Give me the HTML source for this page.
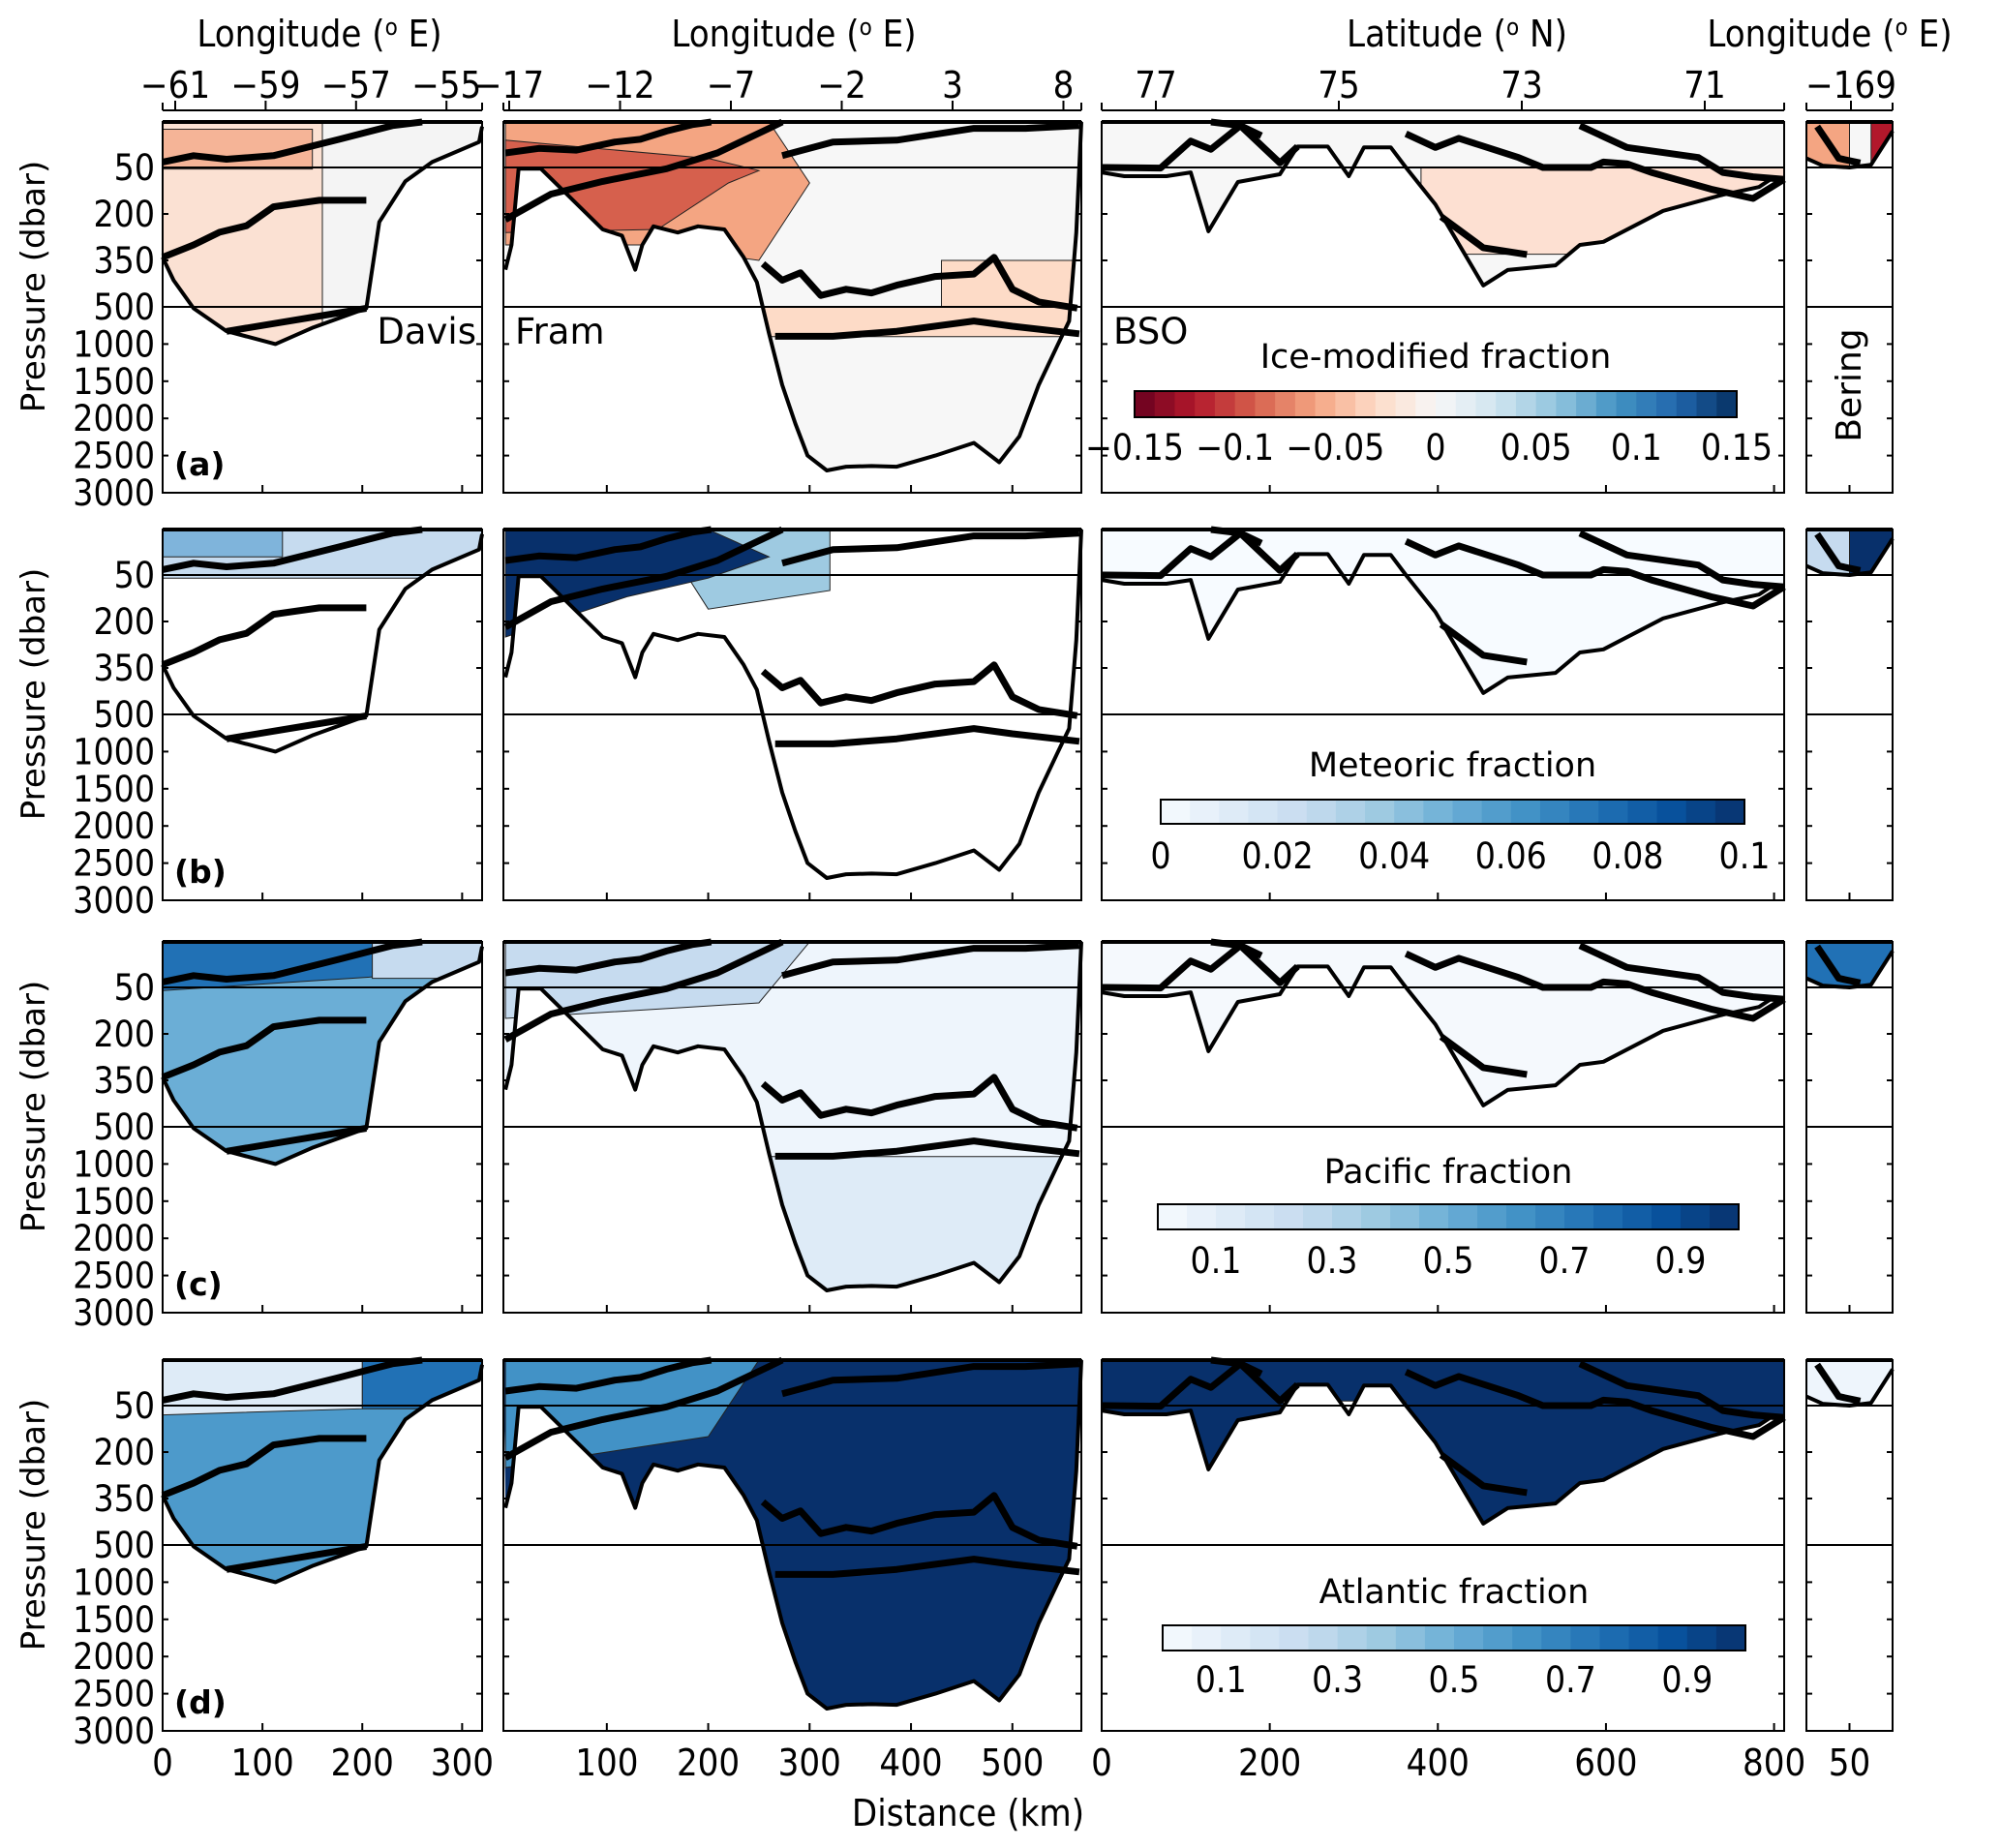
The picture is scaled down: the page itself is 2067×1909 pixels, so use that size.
<!DOCTYPE html>
<html><head><meta charset="utf-8"><style>
html,body{margin:0;padding:0;background:#fff;}
svg{display:block;font-family:"Liberation Sans Narrow","DejaVu Sans Condensed","Liberation Sans",sans-serif;}
.lbl{font-family:"DejaVu Sans","Liberation Sans",sans-serif;}
</style></head><body>
<svg id="fig" xmlns="http://www.w3.org/2000/svg" width="2067" height="1909" viewBox="0 0 2067 1909"></svg>
<script>
// ---------- data ----------
const rowTops = [126, 547, 973, 1405];
const rowLetters = ["(a)","(b)","(c)","(d)"];
const pTicks = [50,200,350,500,1000,1500,2000,2500,3000];

const davisBathyKm = [0,11,31,64,113,151,204,217,243,270,317,320];
const davisBathyP  = [340,414,520,827,1000,776,520,226,95,44,22,5];
const framBathyKm = [0,6,13,35,96,115,128,135,146,170,190,216,235,248,260,273,286,298,317,336,361,386,424,462,487,507,526,544,556,563,568];
const framBathyP  = [380,300,54,54,250,270,380,300,240,260,240,250,340,420,860,1550,2070,2500,2700,2650,2640,2650,2500,2330,2590,2240,1550,1030,690,260,0];
const bsoBathyKm = [0,27,77,106,127,162,212,233,269,294,312,344,362,397,454,483,540,569,597,668,739,782,796,812];
const bsoBathyP  = [66,78,78,66,256,97,72,27,27,78,28,28,50,169,431,381,366,300,290,190,138,113,88,88];
const berBathyKm = [42,45,50,54,58];
const berBathyP  = [40,48,50,47,10];

const davisLine1Km=[0,31,64,111,177,230,260], davisLine1P=[44,37,41,37,19,4,0];
const davisLine2Km=[0,31,57,84,111,157,204], davisLine2P=[340,300,259,238,177,156,156];
const davisLine3Km=[64,204], davisLine3P=[830,520];
const framLineAKm=[0,33,70,108,133,159,184,203], framLineAP=[34,29,31,22,19,10,3,0];
const framLineBKm=[0,45,96,159,209,260,273], framLineBP=[218,136,95,54,34,7,0];
const framLineCKm=[254,273,291,311,336,361,386,424,462,482,500,526,564], framLineCP=[361,414,390,463,443,455,430,402,394,340,443,484,517];
const framLineDKm=[266,323,386,462,500,566], framLineDP=[896,896,828,690,760,862];
const framLineEKm=[273,323,386,462,513,566], framLineEP=[37,22,20,7,7,4];
const bsoLineAKm=[0,70,106,130,165,190], bsoLineAP=[50,52,21,30,4,15];
const bsoLineBKm=[130,165,212,233], bsoLineBP=[0,4,45,27];
const bsoLineCKm=[362,397,425,496,525,582,597,625,654,725,775,812], bsoLineCP=[13,28,18,39,50,50,44,46,66,120,150,88];
const bsoLineDKm=[569,625,710,739,775,812], bsoLineDP=[4,28,39,66,80,88];
const bsoLineEKm=[404,454,506], bsoLineEP=[209,309,331];
const berLineKm=[44,48,52], berLineP=[5,40,45];

const davisLonTicks=[-61,-59,-57,-55];
const framLonTicks=[-17,-12,-7,-2,3,8];
const bsoLatTicks=[77,75,73,71];
const berLonTicks=[-169];
const davisDistTicks=[0,100,200,300];
const framDistTicks=[100,200,300,400,500];
const bsoDistTicks=[0,200,400,600,800];
const berDistTicks=[50];

const iceTickVals=[-0.15,-0.1,-0.05,0,0.05,0.1,0.15];
const iceTickLabels=["\u22120.15","\u22120.1","\u22120.05","0","0.05","0.1","0.15"];
const metTickVals=[0,0.02,0.04,0.06,0.08,0.1];
const metTickLabels=["0","0.02","0.04","0.06","0.08","0.1"];
const fracTickVals=[0.1,0.3,0.5,0.7,0.9];
const fracTickLabels=["0.1","0.3","0.5","0.7","0.9"];

// ---------- helpers ----------
const NS="http://www.w3.org/2000/svg";
const svg=document.getElementById('fig');
function mk(tag,attrs,parent){const e=document.createElementNS(NS,tag);for(const k in attrs)e.setAttribute(k,attrs[k]);(parent||svg).appendChild(e);return e;}
function txt(s,attrs,parent){const e=mk('text',attrs,parent);e.textContent=s;return e;}
const H=383;
function pY(p){ if(p<=50) return p/50*47; if(p<=500) return 47+(p-50)/450*144; return 191+(p-500)/2500*192; }
const sections=[
 {id:'davis',x0:168,x1:498,d0:0,d1:320,bk:davisBathyKm,bp:davisBathyP,
  lines:[[davisLine1Km,davisLine1P],[davisLine2Km,davisLine2P],[davisLine3Km,davisLine3P]]},
 {id:'fram',x0:520,x1:1117,d0:-2,d1:568,bk:framBathyKm,bp:framBathyP,
  lines:[[framLineAKm,framLineAP],[framLineBKm,framLineBP],[framLineCKm,framLineCP],[framLineDKm,framLineDP],[framLineEKm,framLineEP]]},
 {id:'bso',x0:1138,x1:1843,d0:0,d1:812,bk:bsoBathyKm,bp:bsoBathyP,
  lines:[[bsoLineAKm,bsoLineAP],[bsoLineBKm,bsoLineBP],[bsoLineCKm,bsoLineCP],[bsoLineDKm,bsoLineDP],[bsoLineEKm,bsoLineEP]]},
 {id:'bering',x0:1866,x1:1955,d0:42,d1:58,bk:berBathyKm,bp:berBathyP,lines:[[berLineKm,berLineP]]}
];
function xS(s,d){return s.x0+(d-s.d0)/(s.d1-s.d0)*(s.x1-s.x0);}

const base=[
 ['#fbe1d3','#f7f7f7','#f7f7f7','#f7f7f7'],
 ['#ffffff','#ffffff','#f7fbff','#c6dbef'],
 ['#6baed6','#eef5fc','#f5f9fd','#2171b5'],
 ['#4d9acb','#08306b','#08306b','#eef5fc']
];
const patches=[
 [0,0,'#f4f4f4',[160,330,330,160],[0,0,3000,3000]],
 [0,0,'#f5b497',[0,150,150,0],[8,8,55,55]],
 [1,0,'#f4a582',[0,260,300,250,140,0],[0,0,100,350,300,300]],
 [1,0,'#d6604d',[0,100,200,250,220,150,0],[20,30,40,60,100,250,260]],
 [1,0,'#fddbc7',[250,568,568,250],[500,500,900,900]],
 [1,0,'#fddbc7',[430,568,568,430],[350,350,500,500]],
 [2,0,'#fde0d2',[380,812,812,600,380],[50,50,120,330,330]],
 [3,0,'#f4a582',[42,50,50,42],[0,0,50,50]],
 [3,0,'#b2182b',[54,58,58,54],[0,0,50,50]],
 [0,1,'#c6dbef',[0,330,330,0],[0,0,60,60]],
 [0,1,'#7fb4db',[0,120,120,0],[0,0,30,30]],
 [1,1,'#9ecae1',[150,320,320,200],[0,0,100,160]],
 [1,1,'#08306b',[0,200,260,200,120,0],[0,0,30,60,120,250]],
 [3,1,'#08306b',[50,58,58,50],[0,0,50,50]],
 [0,2,'#2171b5',[0,330,330,0],[0,0,30,60]],
 [0,2,'#c6dbef',[210,330,330,210],[0,0,40,40]],
 [1,2,'#c6dbef',[0,300,250,0],[0,0,100,150]],
 [1,2,'#deebf7',[250,568,568,250],[900,900,3000,3000]],
 [0,3,'#deebf7',[0,200,200,0],[0,0,60,80]],
 [0,3,'#2171b5',[200,330,330,200],[0,0,60,60]],
 [1,3,'#4292c6',[0,250,200,0],[0,0,150,250]],
 [2,3,'#ffffff',[216,362,362,216],[45,45,200,200]]
];

// ---------- draw panels ----------
rowTops.forEach((top,r)=>{
  const rowG=mk('g',{});
  
  
  sections.forEach((s,si)=>{
    const g=mk('g',{},rowG);
    
    
    const Y=p=>top+pY(p);
    let pts=[[xS(s,s.d0),Y(0)],[xS(s,s.d1),Y(0)]];
    for(let i=s.bk.length-1;i>=0;i--) pts.push([xS(s,s.bk[i]),Y(s.bp[i])]);
    const poly=pts.map(q=>q[0].toFixed(1)+','+q[1].toFixed(1)).join(' ');
    const cid='clip-'+s.id+'-'+r;
    const cp=mk('clipPath',{id:cid},g); mk('polygon',{points:poly},cp);
    const wg=mk('g',{'clip-path':'url(#'+cid+')'},g);
    const w=mk('polygon',{points:poly,fill:base[r][si]},wg);
    
    
    patches.filter(p=>p[0]===si&&p[1]===r).forEach(p=>{
      const pp=p[3].map((k,i)=>xS(s,k).toFixed(1)+','+Y(p[4][i]).toFixed(1)).join(' ');
      const e=mk('polygon',{points:pp,fill:p[2],stroke:'#222','stroke-width':1},wg);
      
      
    });
    const bpath=s.bk.map((k,i)=>(i?'L':'M')+xS(s,k).toFixed(1)+','+Y(s.bp[i]).toFixed(1)).join(' ');
    const b=mk('path',{d:bpath,fill:'none',stroke:'#000','stroke-width':4,'stroke-linejoin':'round'},g);
    
    
    s.lines.forEach(L=>{
      const d=L[0].map((k,i)=>(i?'L':'M')+xS(s,k).toFixed(1)+','+Y(L[1][i]).toFixed(1)).join(' ');
      const e=mk('path',{d:d,fill:'none',stroke:'#000','stroke-width':7,'stroke-linejoin':'round'},g);
      
      
    });
    [50,500].forEach(p=>{mk('line',{x1:s.x0,x2:s.x1,y1:Y(p),y2:Y(p),stroke:'#000','stroke-width':2},g);});
    const f=mk('rect',{x:s.x0,y:top,width:s.x1-s.x0,height:H,fill:'none',stroke:'#000','stroke-width':2},g);
    
    
    mk('line',{x1:s.x0,x2:s.x1,y1:top,y2:top,stroke:'#000','stroke-width':4},g);
    pTicks.forEach(p=>{mk('line',{x1:s.x0,x2:s.x0+6,y1:Y(p),y2:Y(p),stroke:'#000','stroke-width':2},g);
                       mk('line',{x1:s.x1,x2:s.x1-6,y1:Y(p),y2:Y(p),stroke:'#000','stroke-width':2},g);});
    const dt=[davisDistTicks,framDistTicks,bsoDistTicks,berDistTicks][si];
    dt.forEach(d=>{mk('line',{x1:xS(s,d),x2:xS(s,d),y1:top+H,y2:top+H-8,stroke:'#000','stroke-width':2},g);});
  });
  pTicks.forEach(p=>{
    const t=txt(String(p),{x:160,y:top+pY(p)+13,'font-size':37,'text-anchor':'end'},rowG);
    
    
  });
  const yt=txt('Pressure (dbar)',{x:0,y:0,'font-size':34,'text-anchor':'middle',class:'lbl',transform:'translate(46,'+(top+170)+') rotate(-90)'},rowG);
  
  
  const lt=txt(rowLetters[r],{x:180,y:top+H-18,'font-size':33,'font-weight':'bold',class:'lbl'},rowG);
  
  
});

[['Davis',492,355,'end'],['Fram',532,355,'start'],['BSO',1150,355,'start']].forEach(a=>{
  const t=txt(a[0],{x:a[1],y:a[2],'font-size':37,'text-anchor':a[3],class:'lbl'});
  
  
});
const bt=txt('Bering',{x:0,y:0,'font-size':36,'text-anchor':'middle',class:'lbl',transform:'translate(1922,398) rotate(-90)'});



const topAxes=[
 [davisLonTicks,v=>181+(v+61)*46.7,'Longitude (',' E)',330,168,498],
 [framLonTicks,v=>526+(v+17)*22.9,'Longitude (',' E)',820,520,1117],
 [bsoLatTicks,v=>1194+(77-v)*94.5,'Latitude (',' N)',1505,1138,1843],
 [berLonTicks,v=>1912,'Longitude (',' E)',1890,1866,1955]
];
topAxes.forEach(a=>{
  mk('line',{x1:a[5],x2:a[6],y1:114,y2:114,stroke:'#000','stroke-width':2});
  mk('line',{x1:a[5],x2:a[5],y1:114,y2:106,stroke:'#000','stroke-width':2});
  mk('line',{x1:a[6],x2:a[6],y1:114,y2:106,stroke:'#000','stroke-width':2});
  a[0].forEach(v=>{
    const x=a[1](v);
    mk('line',{x1:x,x2:x,y1:114,y2:104,stroke:'#000','stroke-width':2});
    const t=txt(String(v).replace('-','\u2212'),{x:x,y:101,'font-size':38,'text-anchor':'middle'});
    
    
  });
  const t=mk('text',{x:a[4],y:48,'font-size':38,'text-anchor':'middle'});
  
  
  const s1=mk('tspan',{},t); s1.textContent=a[2];
  const s2=mk('tspan',{dy:-12,'font-size':24},t); s2.textContent='o';
  const s3=mk('tspan',{dy:12},t); s3.textContent=a[3];
});

const lastTop=rowTops[3];
[davisDistTicks,framDistTicks,bsoDistTicks,berDistTicks].forEach((arr,si)=>{
  arr.forEach(d=>{
    const t=txt(String(d),{x:xS(sections[si],d),y:lastTop+H+46,'font-size':38,'text-anchor':'middle'});
    
    
  });
});
const xt=txt('Distance (km)',{x:1000,y:1886,'font-size':38,'text-anchor':'middle'});



function lerp(c1,c2,t){return '#'+[0,1,2].map(i=>{const a=parseInt(c1.substr(1+2*i,2),16),b=parseInt(c2.substr(1+2*i,2),16);return Math.round(a+(b-a)*t).toString(16).padStart(2,'0');}).join('');}
function ramp(stops,t){const n=stops.length-1;const i=Math.min(n-1,Math.floor(t*n));return lerp(stops[i],stops[i+1],t*n-i);}
const rdbu=['#67001f','#b2182b','#d6604d','#f4a582','#fddbc7','#f7f7f7','#d1e5f0','#92c5de','#4393c3','#2166ac','#053061'];
const blues=['#f7fbff','#deebf7','#c6dbef','#9ecae1','#6baed6','#4292c6','#2171b5','#08519c','#08306b'];
const bars=[
 {name:'ice-modified-colorbar',title:'Ice-modified fraction',x:1172,w:622,y:404,h:27,n:30,st:rdbu,v0:-0.15,v1:0.15,tv:iceTickVals,tl:iceTickLabels,ty:380,ly:475},
 {name:'meteoric-colorbar',title:'Meteoric fraction',x:1199,w:603,y:826,h:25,n:20,st:blues,v0:0,v1:0.1,tv:metTickVals,tl:metTickLabels,ty:802,ly:897},
 {name:'pacific-colorbar',title:'Pacific fraction',x:1196,w:600,y:1244,h:26,n:20,st:blues,v0:0,v1:1,tv:fracTickVals,tl:fracTickLabels,ty:1222,ly:1315},
 {name:'atlantic-colorbar',title:'Atlantic fraction',x:1201,w:602,y:1679,h:26,n:20,st:blues,v0:0,v1:1,tv:fracTickVals,tl:fracTickLabels,ty:1656,ly:1748}
];
bars.forEach(b=>{
  const g=mk('g',{});
  
  
  for(let i=0;i<b.n;i++){
    mk('rect',{x:b.x+i*b.w/b.n,y:b.y,width:b.w/b.n+0.6,height:b.h,fill:ramp(b.st,(i+0.5)/b.n)},g);
  }
  mk('rect',{x:b.x,y:b.y,width:b.w,height:b.h,fill:'none',stroke:'#000','stroke-width':2},g);
  const t=txt(b.title,{x:b.x+b.w/2,y:b.ty,'font-size':35,'text-anchor':'middle',class:'lbl'},g);
  
  
  b.tv.forEach((v,i)=>{
    const x=b.x+(v-b.v0)/(b.v1-b.v0)*b.w;
    const l=txt(b.tl[i],{x:x,y:b.ly,'font-size':37,'text-anchor':'middle'},g);
    
    
  });
});
</script>
</body></html>
